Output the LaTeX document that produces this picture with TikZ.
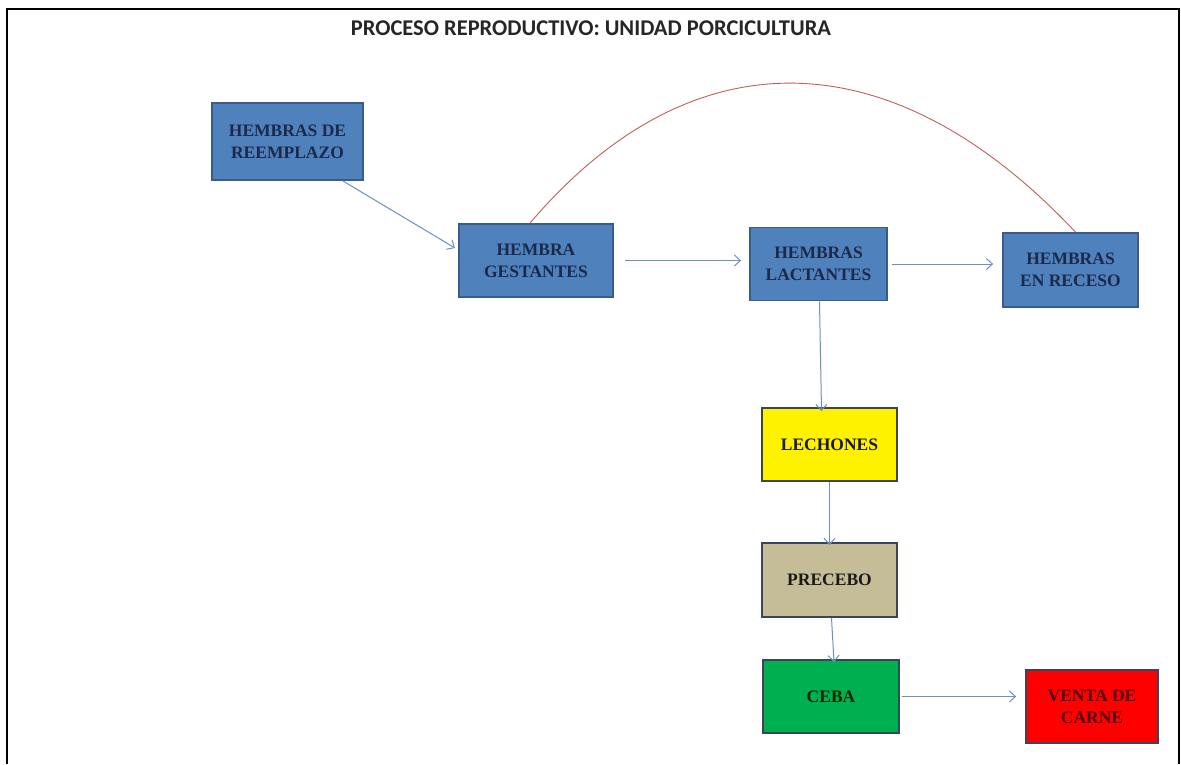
\documentclass[tikz,border=0pt]{standalone}
\usepackage{fontspec}
\setmainfont{Liberation Serif}
\newfontfamily\titlefont{Carlito}
\usetikzlibrary{arrows.meta}
\definecolor{boxblue}{HTML}{4F81BD}
\definecolor{boxedge}{HTML}{385D8A}
\definecolor{navytext}{HTML}{1B2A4A}
\definecolor{arrowc}{HTML}{6F8FBF}
\definecolor{curvec}{HTML}{C0605D}
\definecolor{tan}{HTML}{C4BD97}
\definecolor{greenc}{HTML}{00B050}
\definecolor{darkedge}{HTML}{3A4657}
\tikzset{
  boxnode/.style={draw=boxedge, line width=1.8pt, fill=boxblue, inner sep=0pt,
    font=\fontsize{17.5}{22}\selectfont\bfseries, text=navytext, align=center},
  flowarrow/.style={draw=arrowc, line width=1pt, -{Straight Barb[length=6pt,width=11pt,line width=1pt]}},
}
\begin{document}
\begin{tikzpicture}[x=1pt,y=-1pt]
\useasboundingbox (0,0) rectangle (1181,764);
\fill[white] (0,0) rectangle (1181,764);
% frame
\draw[line width=2pt, black] (7,764) -- (7,9) -- (1179,9) -- (1179,764);
% title
\node[font=\titlefont\fontsize{22.5}{22.5}\selectfont\bfseries, text=black!85] (title) at (591,28) {PROCESO REPRODUCTIVO: UNIDAD PORCICULTURA};
% boxes
\node[boxnode, minimum width=151pt, minimum height=77pt] (reem) at (287.5,141.5) {HEMBRAS DE\\REEMPLAZO};
\node[boxnode, minimum width=154pt, minimum height=73pt] (gest) at (536,260.5) {HEMBRA\\GESTANTES};
\node[boxnode, minimum width=137pt, minimum height=73pt] (lact) at (818.5,264) {HEMBRAS\\LACTANTES};
\node[boxnode, minimum width=135pt, minimum height=74pt] (rece) at (1070.5,270) {HEMBRAS\\EN RECESO};
\node[boxnode, draw=darkedge, fill=yellow, text=black!90, minimum width=135pt, minimum height=73pt] (lech) at (829.5,444.5) {LECHONES};
\node[boxnode, draw=darkedge, fill=tan, text=black!90, minimum width=135pt, minimum height=74pt] (prec) at (829.5,580) {PRECEBO};
\node[boxnode, draw=darkedge, fill=greenc, text=black!85!green, minimum width=136pt, minimum height=73pt] (ceba) at (831,696.5) {CEBA};
\node[boxnode, draw=darkedge, fill=red, text=black!70!red, minimum width=132pt, minimum height=73pt] (vent) at (1092,706.5) {VENTA DE\\CARNE};
% coordinates for arrow ends
\coordinate (a1) at (343,181);
\coordinate (a1e) at (455,248);
% arrows
\draw[flowarrow] (a1) -- (a1e);
\draw[flowarrow] ([xshift=11pt]gest.east) -- ([xshift=-8pt]lact.west |- gest.east);
\draw[flowarrow] ([xshift=4pt]lact.east) -- ([xshift=-9pt]rece.west |- lact.east);
\draw[flowarrow] ([xshift=1pt]lact.south) -- ([xshift=-8pt, yshift=-4pt]lech.north);
\draw[flowarrow] (lech.south) -- ([yshift=-3pt]prec.north);
\draw[flowarrow] ([xshift=2pt]prec.south) -- ([xshift=3pt,yshift=-3pt]ceba.north);
\draw[flowarrow] ([xshift=2pt]ceba.east) -- ([xshift=-9pt]vent.west |- ceba.east);
% curve
\draw[curvec, line width=0.9pt] ([xshift=-6pt]gest.north) .. controls (690,35) and (890,35) .. ([xshift=5pt]rece.north);
\end{tikzpicture}
\end{document}
